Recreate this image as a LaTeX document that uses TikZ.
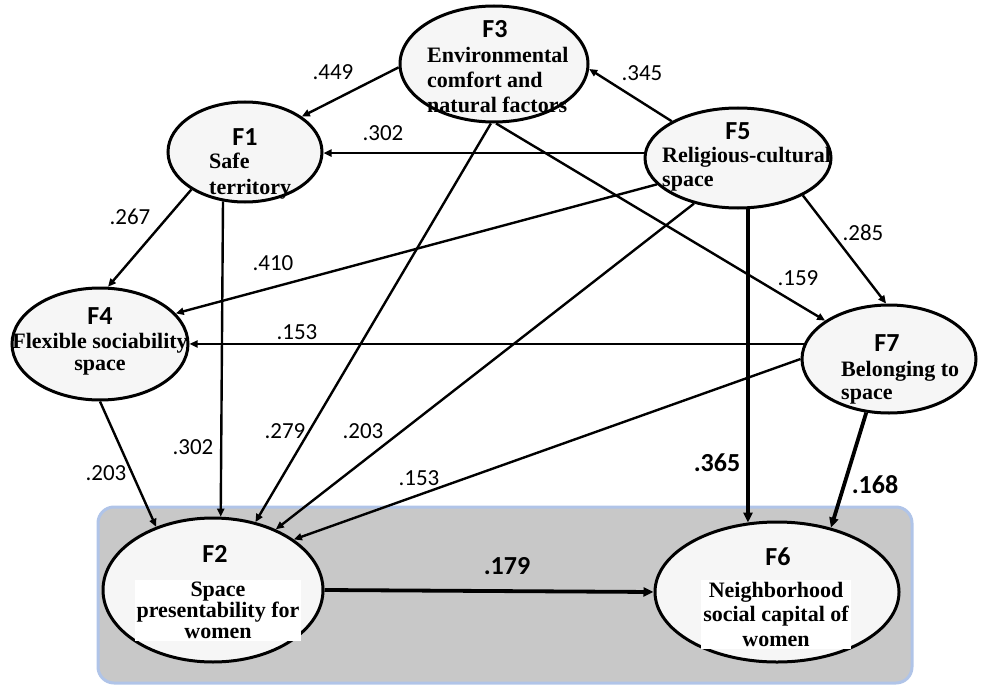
\documentclass[tikz,border=0pt]{standalone}
\usepackage{fontspec}
\setmainfont{Liberation Serif}
\newfontfamily\calfont{Carlito}
\usetikzlibrary{shapes.geometric,arrows.meta}
\definecolor{boxfill}{RGB}{200,200,200}
\definecolor{boxedge}{RGB}{176,196,232}
\begin{document}
\begin{tikzpicture}[x=1pt,y=-1pt,
  fac/.style={ellipse,draw,line width=3pt,fill=gray!7,inner sep=0pt},
  arr/.style={-{Triangle[length=8pt,width=7pt]},line width=2.4pt},
  thk/.style={-{Triangle[length=10pt,width=9pt]},line width=3.8pt},
  num/.style={font=\calfont\fontsize{23}{26}\selectfont,inner sep=0pt},
  bnum/.style={font=\calfont\bfseries\fontsize{26}{30}\selectfont,inner sep=0pt},
  flab/.style={font=\calfont\bfseries\fontsize{26}{30}\selectfont,inner sep=0pt},
  txt/.style={font=\bfseries\fontsize{22}{#1}\selectfont,inner sep=0pt},
]
\useasboundingbox (0,0) rectangle (998,690);
% grey panel
\node[draw=boxedge,fill=boxfill,line width=3pt,rounded corners=16pt,
      minimum width=814pt,minimum height=176pt,inner sep=0pt] (box) at (505,595) {};
% factor ellipses
\node[fac,minimum width=188pt,minimum height=116pt] (F3) at (494,64) {};
\node[fac,minimum width=154pt,minimum height=100pt] (F1) at (245,152) {};
\node[fac,minimum width=176pt,minimum height=112pt] (F4) at (100,344) {};
\node[fac,minimum width=186pt,minimum height=100pt] (F5) at (738,158) {};
\node[fac,minimum width=174pt,minimum height=108pt] (F7) at (889,359) {};
\node[fac,minimum width=220pt,minimum height=144pt] (F2) at (213,590) {};
\node[fac,minimum width=244pt,minimum height=140pt] (F6) at (777,592) {};
% connectors
\draw[arr] (F3.182) -- (F1.32);
\draw[arr] (F5.151) -- (F3.-3);
\draw[arr] (F5.177) -- (F5.177 -| F1.east);
\draw[arr] (F1.215) -- (F4.82);
\draw[arr] (F5.198) -- (F4.22);
\draw[arr] (F7.170) -- (F7.170 -| F4.east);
\draw[arr] (F1.246) -- (F2.84);
\draw[arr] (F3.267) -- (F2.58);
\draw[arr] (F3.272) -- (F7.149);
\draw[arr] (F5.226) -- (F2.44);
\draw[thk] (F5.281) -- (F5.281 |- F6.113);
\draw[arr] (F5.-30) -- (F7.93);
\draw[arr] (F7.180) -- (F2.32);
\draw[thk] (F7.247) -- (F6.50);
\draw[arr] (F4.270) -- (F2.132);
\draw[thk] (F2.east) -- (F6.west);
% factor names
\node[flab] (l3) at (495,29) {F3};
\node[flab] (l1) at (245,137) {F1};
\node[flab] (l5) at (738,131) {F5};
\node[flab] (l7) at (887,343) {F7};
\node[flab] (l4) at (100,316) {F4};
\node[flab] (l2) at (215,554) {F2};
\node[flab] (l6) at (778,557) {F6};
% factor descriptions
\node[txt=25pt,anchor=north west,align=left] (t3) at (427,47) {Environmental\\comfort and\\natural factors};
\node[txt=26pt,anchor=north west,align=left] (t1) at (209,153) {Safe\\territory};
\node[txt=24pt,anchor=north west,align=left] (t5) at (662,147) {Religious-cultural\\space};
\node[txt=23pt,anchor=north west,align=left] (t7) at (841,361) {Belonging to\\space};
\node[txt=22pt,anchor=north,align=center] (t4) at (100,333) {Flexible sociability\\space};
\node[txt=21pt,anchor=north,align=center,fill=white,inner sep=2pt] (t2) at (218,580) {Space\\presentability for\\women};
\node[txt=24.5pt,anchor=north,align=center,fill=white,inner sep=2pt] (t6) at (776,580) {Neighborhood\\social capital of\\women};
% coefficients
\node[num] (c1) at (333,72) {.449};
\node[num] (c2) at (383,133) {.302};
\node[num] (c3) at (130,217) {.267};
\node[num] (c4) at (273,263) {.410};
\node[num] (c5) at (297,332) {.153};
\node[num] (c6) at (642,73) {.345};
\node[num] (c7) at (863,233) {.285};
\node[num] (c8) at (798,278) {.159};
\node[num] (c9) at (106,473) {.203};
\node[num] (c10) at (193,447) {.302};
\node[num] (c11) at (285,431) {.279};
\node[num] (c12) at (363,431) {.203};
\node[num] (c13) at (419,478) {.153};
\node[bnum] (c14) at (507,566) {.179};
\node[bnum] (c15) at (717,463) {.365};
\node[bnum] (c16) at (875,485) {.168};
\end{tikzpicture}
\end{document}
